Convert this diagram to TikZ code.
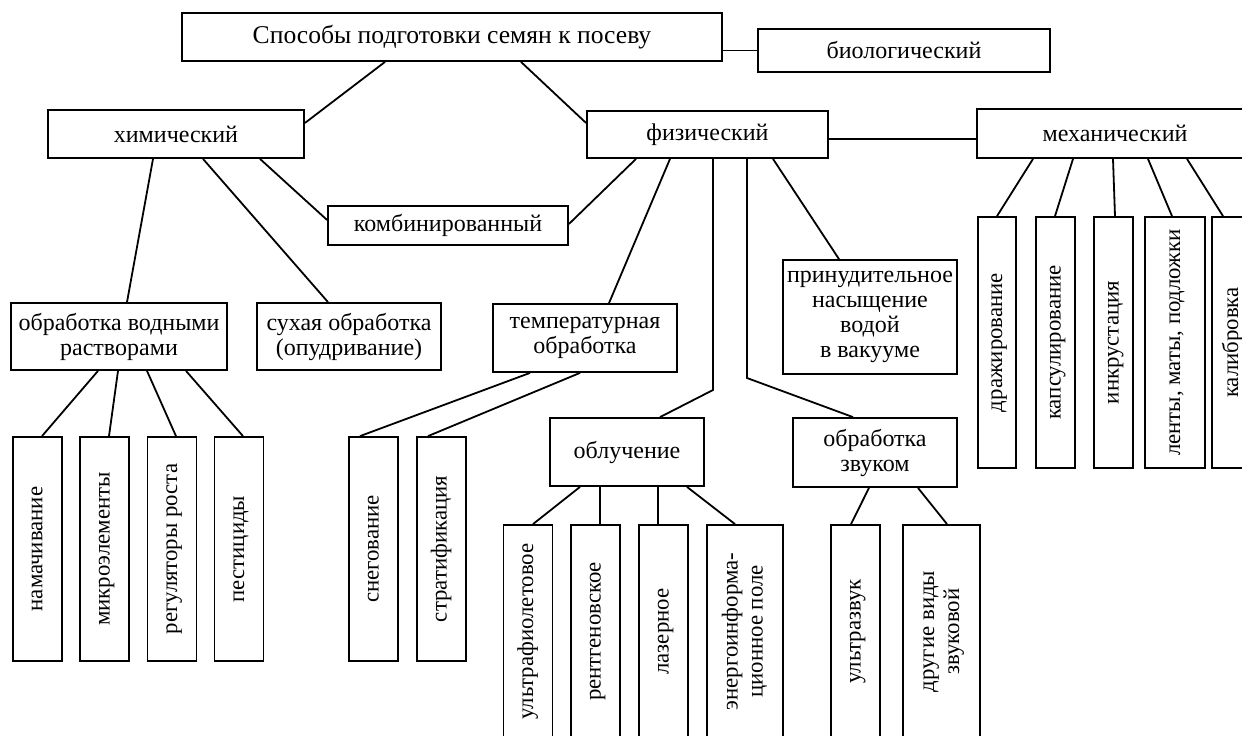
\documentclass[tikz,border=0pt]{standalone}
\usepackage{fontspec}
\setmainfont{Liberation Serif}
\usepackage{graphicx}
\newcommand{\vlabel}[1]{\rotatebox{90}{\fontsize{11.4}{12.5}\selectfont\begin{tabular}{@{}c@{}}#1\end{tabular}}}

\begin{document}
\begin{tikzpicture}[x=0.5pt,y=-0.5pt,line width=0.9pt,
    font=\fontsize{12}{12.5}\selectfont,
    box/.style={rectangle,draw,inner sep=2pt,align=center},
    vbox/.style={rectangle,draw,inner sep=1pt,minimum width=24.5pt}]
  \path[use as bounding box] (0,0) rectangle (1242,735);
  \clip (0,0) rectangle (1242,735);
  \path
  (452,37) node[box,minimum width=270pt,minimum height=24pt,font=\fontsize{12.8}{13}\selectfont] (root) {Способы подготовки семян к посеву}
  (904,50.5) node[box,minimum width=146pt,minimum height=21.5pt] (bio) {биологический}

  (176,134) node[box,minimum width=128pt,minimum height=24pt] (chem) {химический}
  (707.5,134.5) node[box,minimum width=120.5pt,minimum height=23.5pt] (phys) {физический}
  (1115,133.5) node[box,minimum width=138pt,minimum height=24.5pt] (mech) {механический}
  (448,225.5) node[box,minimum width=120pt,minimum height=19.5pt] (comb) {комбинированный}

  (119,336.5) node[box,minimum width=108pt,minimum height=33.5pt] (water) {обработка водными\\растворами}
  (349,336.5) node[box,minimum width=92pt,minimum height=33.5pt] (dry) {сухая обработка\\(опудривание)}
  (585,338) node[box,minimum width=92pt,minimum height=34pt] (temp) {температурная\\обработка}
  (870,317) node[box,minimum width=87pt,minimum height=57pt] (vac) {принудительное\\насыщение\\водой\\в вакууме}
  (627,452) node[box,minimum width=77pt,minimum height=34pt] (irr) {облучение}
  (875,452.5) node[box,minimum width=82pt,minimum height=34.5pt] (sound) {обработка\\звуком}

  % водные растворы
  (37.5,549) node[vbox,minimum height=112pt] (soak) {\vlabel{намачивание}}
  (104.5,549) node[vbox,minimum height=112pt] (micro) {\vlabel{микроэлементы}}
  (172,549) node[vbox,minimum height=112pt] (growth) {\vlabel{регуляторы роста}}
  (239,549) node[vbox,minimum height=112pt] (pest) {\vlabel{пестициды}}
  % температура
  (373.5,549) node[vbox,minimum height=112pt] (snow) {\vlabel{снегование}}
  (441.5,549) node[vbox,minimum height=112pt] (strat) {\vlabel{стратификация}}
  % облучение
  (528,631.5) node[vbox,minimum height=106.5pt] (uv) {\vlabel{ультрафиолетовое}}
  (595.5,631.5) node[vbox,minimum height=106.5pt] (xray) {\vlabel{рентгеновское}}
  (663.5,631.5) node[vbox,minimum height=106.5pt] (laser) {\vlabel{лазерное}}
  (745,631.5) node[vbox,minimum width=38pt,minimum height=106.5pt] (field) {\vlabel{энергоинформа-\\ционное поле}}
  % звук
  (855.5,631.5) node[vbox,minimum height=106.5pt] (ultra) {\vlabel{ультразвук}}
  (941.5,631.5) node[vbox,minimum width=38.5pt,minimum height=106.5pt] (other) {\vlabel{другие виды\\звуковой}}
  % механический
  (997,342.5) node[vbox,minimum width=19pt,minimum height=125.5pt] (drag) {\vlabel{дражирование}}
  (1055.5,342.5) node[vbox,minimum width=19.5pt,minimum height=125.5pt] (caps) {\vlabel{капсулирование}}
  (1113.5,342.5) node[vbox,minimum width=19.5pt,minimum height=125.5pt] (inkr) {\vlabel{инкрустация}}
  (1175,342.5) node[vbox,minimum width=30pt,minimum height=125.5pt] (tape) {\vlabel{ленты, маты, подложки}}
  (1233,342.5) node[vbox,minimum width=21pt,minimum height=125.5pt] (calib) {\vlabel{калибровка}}
  ;
  \draw (root.south -| 385,0) -- (chem.east |- 0,123);
  \draw (root.south -| 521,0) -- (phys.west |- 0,123);
  \draw (root.east |- bio.west) -- (bio.west);
  \draw (phys.east |- 0,139) -- (mech.west |- 0,139);

  \draw (chem.south -| 153,0) -- (water.north -| 127,0);
  \draw (chem.south -| 203,0) -- (dry.north -| 328,0);
  \draw (chem.south -| 260,0) -- (comb.west |- 0,220);
  \draw (phys.south -| 636,0) -- (comb.east |- 0,224);
  \draw (phys.south -| 670,0) -- (temp.north -| 609,0);
  \draw (phys.south -| 713,0) -- (713,390) -- (irr.north -| 660,0);
  \draw (phys.south -| 747,0) -- (747,378) -- (sound.north -| 853,0);
  \draw (phys.south -| 773,0) -- (vac.north -| 839,0);

  \draw (water.south -| 98,0) -- (soak.north -| 42,0);
  \draw (water.south -| 118,0) -- (micro.north -| 109,0);
  \draw (water.south -| 147,0) -- (growth.north -| 176,0);
  \draw (water.south -| 186,0) -- (pest.north -| 243,0);
  \draw (temp.south -| 530,0) -- (snow.north -| 360,0);
  \draw (temp.south -| 580,0) -- (strat.north -| 428,0);

  \draw (irr.south -| 580,0) -- (uv.north -| 533,0);
  \draw (irr.south -| 600,0) -- (xray.north -| 600,0);
  \draw (irr.south -| 658,0) -- (laser.north -| 658,0);
  \draw (irr.south -| 687,0) -- (field.north -| 735,0);
  \draw (sound.south -| 869,0) -- (ultra.north -| 851,0);
  \draw (sound.south -| 918,0) -- (other.north -| 947,0);

  \draw (mech.south -| 1033,0) -- (drag.north -| 997,0);
  \draw (mech.south -| 1073,0) -- (caps.north -| 1055,0);
  \draw (mech.south -| 1113,0) -- (inkr.north -| 1115,0);
  \draw (mech.south -| 1148,0) -- (tape.north -| 1172,0);
  \draw (mech.south -| 1187,0) -- (calib.north -| 1223,0);
\end{tikzpicture}
\end{document}
